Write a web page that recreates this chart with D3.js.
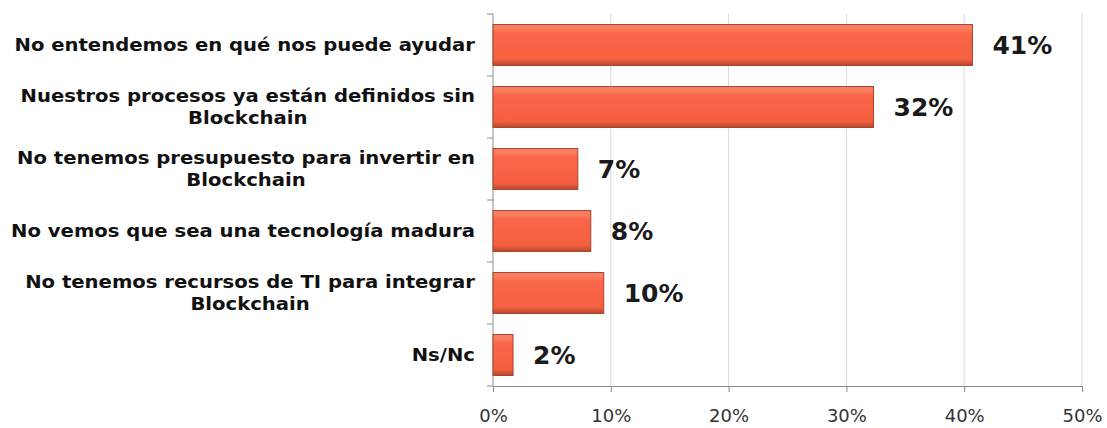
<!DOCTYPE html>
<html>
<head>
    <meta charset="utf-8">
    <title>Blockchain barreras</title>
    <script src="https://d3js.org/d3.v7.min.js"></script>
    <style>
        body { margin: 0; background: #fff; }
    </style>
</head>
<body>
    <script>
        // categories (each entry = lines of the label)
        const categories = [
            ["No entendemos en qué nos puede ayudar"],
            ["Nuestros procesos ya están definidos sin", "Blockchain"],
            ["No tenemos presupuesto para invertir en", "Blockchain"],
            ["No vemos que sea una tecnología madura"],
            ["No tenemos recursos de TI para integrar", "Blockchain"],
            ["Ns/Nc"]
        ];
        const values = [0.407, 0.323, 0.072, 0.083, 0.094, 0.017];
        const valueLabels = ["41%", "32%", "7%", "8%", "10%", "2%"];
        const xTicks = [0, 0.1, 0.2, 0.3, 0.4, 0.5];

        const width = 1107, height = 428;
        const margin = { top: 14, right: 25, bottom: 42, left: 493 };

        const svg = d3.select("body").append("svg")
            .attr("width", width)
            .attr("height", height);

        const defs = svg.append("defs");
        const grad = defs.append("linearGradient")
            .attr("id", "barGrad")
            .attr("x1", 0).attr("y1", 0).attr("x2", 0).attr("y2", 1);
        grad.append("stop").attr("offset", "0%").attr("stop-color", "#f3836a");
        grad.append("stop").attr("offset", "12%").attr("stop-color", "#fb7a5a");
        grad.append("stop").attr("offset", "22%").attr("stop-color", "#f9664a");
        grad.append("stop").attr("offset", "85%").attr("stop-color", "#f4603f");
        grad.append("stop").attr("offset", "100%").attr("stop-color", "#b5472f");

        const x = d3.scaleLinear()
            .domain([0, 0.5])
            .range([margin.left, width - margin.right]);

        const y = d3.scaleBand()
            .domain(d3.range(categories.length))
            .range([margin.top, height - margin.bottom])
            .paddingInner(0.34)
            .paddingOuter(0.17);

        // gridlines
        svg.append("g")
            .selectAll("line")
            .data(xTicks.slice(1))
            .enter().append("line")
            .attr("x1", d => x(d)).attr("x2", d => x(d))
            .attr("y1", margin.top).attr("y2", height - margin.bottom)
            .style("stroke", "#d9d9d9")
            .style("stroke-width", 1);

        // x axis
        const xAxis = svg.append("g")
            .attr("transform", `translate(0,${height - margin.bottom})`)
            .call(d3.axisBottom(x).tickValues(xTicks).tickFormat(d3.format(".0%")).tickSizeInner(6).tickSizeOuter(0).tickPadding(17));
        xAxis.select(".domain").style("stroke", "#8c8c8c");
        xAxis.selectAll(".tick line").style("stroke", "#8c8c8c");
        xAxis.selectAll("text")
            .style("font-family", "Tahoma, 'DejaVu Sans', sans-serif")
            .style("font-size", "18px")
            .style("fill", "#333");

        // y axis line with ticks between categories
        const yAxis = svg.append("g");
        yAxis.append("line")
            .attr("x1", x(0)).attr("x2", x(0))
            .attr("y1", margin.top).attr("y2", height - margin.bottom)
            .style("stroke", "#8c8c8c");
        const yStart = margin.top;
        yAxis.selectAll(".ytick")
            .data(d3.range(categories.length + 1))
            .enter().append("line")
            .attr("class", "ytick")
            .attr("x1", x(0) - 6).attr("x2", x(0))
            .attr("y1", d => yStart + d * (height - margin.bottom - margin.top) / categories.length)
            .attr("y2", d => yStart + d * (height - margin.bottom - margin.top) / categories.length)
            .style("stroke", "#8c8c8c");

        // bars
        const bars = svg.append("g")
            .selectAll("g")
            .data(values)
            .enter().append("g");

        bars.append("rect")
            .attr("x", x(0))
            .attr("y", (d, i) => y(i))
            .attr("width", d => x(d) - x(0))
            .attr("height", y.bandwidth())
            .style("fill", "url(#barGrad)")
            .style("stroke", "#a8432d")
            .style("stroke-width", 1);

        // value labels
        bars.append("text")
            .attr("x", d => x(d) + 20)
            .attr("y", (d, i) => y(i) + y.bandwidth() / 2)
            .attr("dy", "0.36em")
            .text((d, i) => valueLabels[i])
            .style("font-family", "Tahoma, 'DejaVu Sans', sans-serif")
            .style("font-weight", "bold")
            .style("font-size", "25px")
            .style("fill", "#1a1a1a");

        // category labels (multi-line, centered within block, block right-aligned)
        const labelRight = 475;
        const lineH = 22;
        const stretch = 1.09;
        const labelG = svg.append("g");
        categories.forEach((lines, i) => {
            const cy = y(i) + y.bandwidth() / 2;
            const t = labelG.append("text")
                .style("font-family", "Tahoma, 'DejaVu Sans', sans-serif")
                .style("font-weight", "bold")
                .style("font-size", "18px")
                .style("fill", "#111")
                .attr("text-anchor", "middle");
            const tspans = lines.map((ln, k) => t.append("tspan")
                .attr("y", cy + (k - (lines.length - 1) / 2) * lineH)
                .attr("dy", "0.36em")
                .text(ln));
            const widths = tspans.map(s => s.node().getComputedTextLength() * stretch);
            tspans.forEach((s, k) => s.attr("textLength", widths[k]).attr("lengthAdjust", "spacingAndGlyphs"));
            const blockW = d3.max(widths);
            tspans.forEach(s => s.attr("x", labelRight - blockW / 2));
        });
    </script>
</body>
</html>
